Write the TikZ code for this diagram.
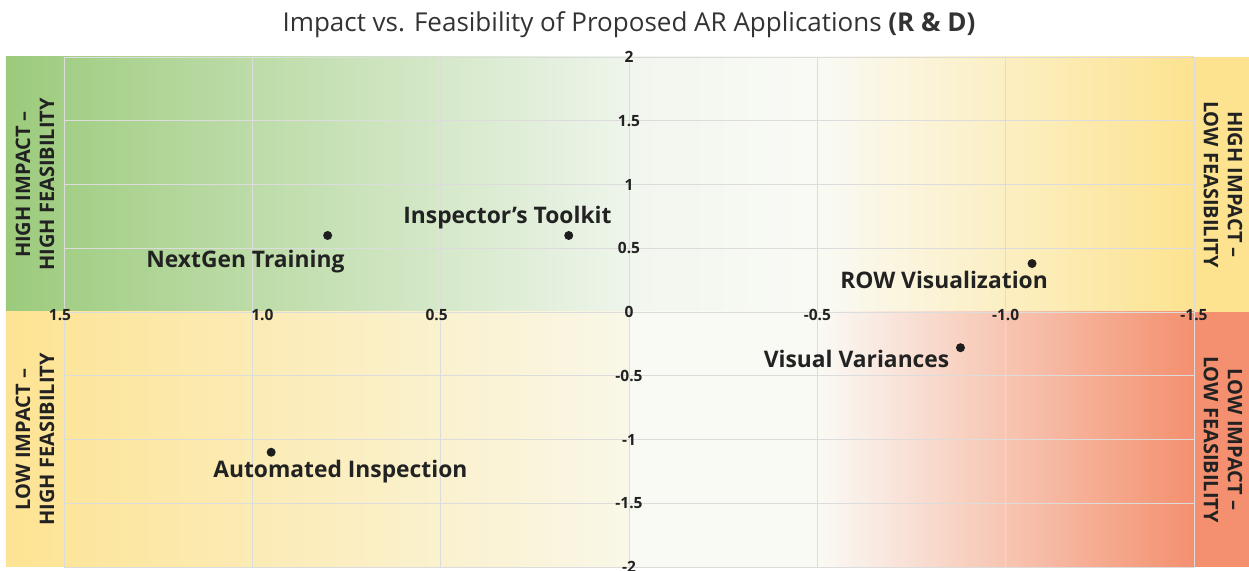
\documentclass[tikz,border=0pt]{standalone}
\usepackage{fontspec}
\setmainfont{Open Sans}
\definecolor{inkGray}{HTML}{222222}
\definecolor{titleGray}{HTML}{333333}
\definecolor{gridGray}{HTML}{DCDCDC}
\definecolor{dotBlack}{HTML}{1E1E1E}
\definecolor{greenDeep}{HTML}{9CCB7C}
\definecolor{greenMid}{HTML}{B1D599}
\definecolor{greenPale}{HTML}{EEF5EB}
\definecolor{paleMint}{HTML}{F1F6EE}
\definecolor{offWhite}{HTML}{FAFAF5}
\definecolor{lightCream}{HTML}{FBF1CC}
\definecolor{sunYellow}{HTML}{FDE38F}
\definecolor{butter}{HTML}{FDE393}
\definecolor{butterMid}{HTML}{FBEAB2}
\definecolor{cream}{HTML}{F9F7E8}
\definecolor{paleWhite}{HTML}{F8FAF3}
\definecolor{blush}{HTML}{F8D6C8}
\definecolor{salmon}{HTML}{F4906F}

\begin{document}
\begin{tikzpicture}[x=-376.67pt, y=127.5pt,
    gridline/.style={draw=gridGray, line width=0.9pt},
    tick/.style={font=\bfseries\fontsize{15.5}{15.5}\selectfont, text=inkGray, inner sep=0pt},
    quadrant/.style={font=\bfseries\fontsize{20}{24}\selectfont, text=inkGray,
                     align=center, inner sep=0pt},
    app/.style={circle, fill=dotBlack, inner sep=0pt, minimum size=9pt},
    appname/.style={font=\bfseries\fontsize{22.8}{26}\selectfont, text=inkGray, inner sep=0pt}]
  \newcommand{\bandL}{1.654}
  \newcommand{\bandR}{-1.646}
  \newcommand{\edge}{1.5}
  \newcommand{\strip}{1.577}

  \useasboundingbox (1.6699, 2.447) rectangle (-1.6460, -2.0314);

  % Draws the four coloured quadrants
  \shade[left color=greenDeep, middle color=greenMid, right color=greenPale]
        (\bandL, 0) rectangle (0, 2);
  \shade[left color=paleMint, right color=offWhite] (0, 0) rectangle (-0.5, 2);
  \shade[left color=offWhite, middle color=lightCream, right color=sunYellow]
        (-0.5, 0) rectangle (-\edge, 2);
  \fill[sunYellow] (-\edge, 0) rectangle (\bandR, 2);
  \shade[left color=butter, middle color=butterMid, right color=cream]
        (\bandL, -2) rectangle (0, 0);
  \shade[left color=paleWhite, right color=offWhite] (0, -2) rectangle (-0.5, 0);
  \shade[left color=offWhite, middle color=blush, right color=salmon]
        (-0.5, -2) rectangle (-\edge, 0);
  \fill[salmon] (-\edge, -2) rectangle (\bandR, 0);

  % Draws the grid
  \foreach \x in {1.5, 1, 0.5, 0, -0.5, -1, -1.5}
     \draw[gridline] (\x, -2) -- (\x, 2);
  \foreach \y in {-2, -1.5, -1, -0.5, 0, 0.5, 1, 1.5, 2}
     \draw[gridline] (\edge, \y) -- (-\edge, \y);

  % Tick labels on both axes
  \foreach \x/\txt/\dx in {1.5/1.5/-4, 1/1.0/10, 0.5/0.5/-4,
                           -0.5/-0.5/0, -1/-1.0/0, -1.5/-1.5/0}
     \node[tick] (xt\txt) at ([xshift=\dx pt, yshift=-3pt]\x, 0) {\txt};
  \foreach \y in {2, 1.5, 1, 0.5, 0, -0.5, -1, -1.5, -2}
     \node[tick] (yt\y) at (0, \y) {\y};

  % Quadrant captions in the side strips
  \node[quadrant, rotate=90] (hihf) at (\strip, 1) {HIGH IMPACT –\\HIGH FEASIBILITY};
  \node[quadrant, rotate=90] (lohf) at (\strip, -1) {LOW IMPACT –\\HIGH FEASIBILITY};
  \node[quadrant, rotate=-90] (hilf) at (-\strip, 1) {HIGH IMPACT –\\LOW FEASIBILITY};
  \node[quadrant, rotate=-90] (lolf) at (-\strip, -1) {LOW IMPACT –\\LOW FEASIBILITY};

  % The proposed applications
  \node[app] (ng) at (0.8, 0.6) {};
  \node[appname, anchor=base east] (ngName) at ([xshift=17pt, yshift=-32.5pt]ng.center)
       {NextGen Training};
  \node[app] (it) at (0.16, 0.6) {};
  \node[appname, anchor=base east] (itName) at ([xshift=43pt, yshift=11.5pt]it.center)
       {Inspector’s Toolkit};
  \node[app] (row) at (-1.07, 0.38) {};
  \node[appname, anchor=base east] (rowName) at ([xshift=16pt, yshift=-24.5pt]row.center)
       {ROW Visualization};
  \node[app] (vv) at (-0.88, -0.28) {};
  \node[appname, anchor=base east] (vvName) at ([xshift=-11pt, yshift=-20pt]vv.center)
       {Visual Variances};
  \node[app] (ai) at (0.95, -1.1) {};
  \node[appname, anchor=base west] (aiName) at ([xshift=-58pt, yshift=-25pt]ai.center)
       {Automated Inspection};

  % Title
  \node[font=\fontsize{26}{26}\selectfont, text=titleGray] (title) at (0, 2.251)
       {Impact vs. Feasibility of Proposed AR Applications \textbf{(R \& D)}};
\end{tikzpicture}
\end{document}
